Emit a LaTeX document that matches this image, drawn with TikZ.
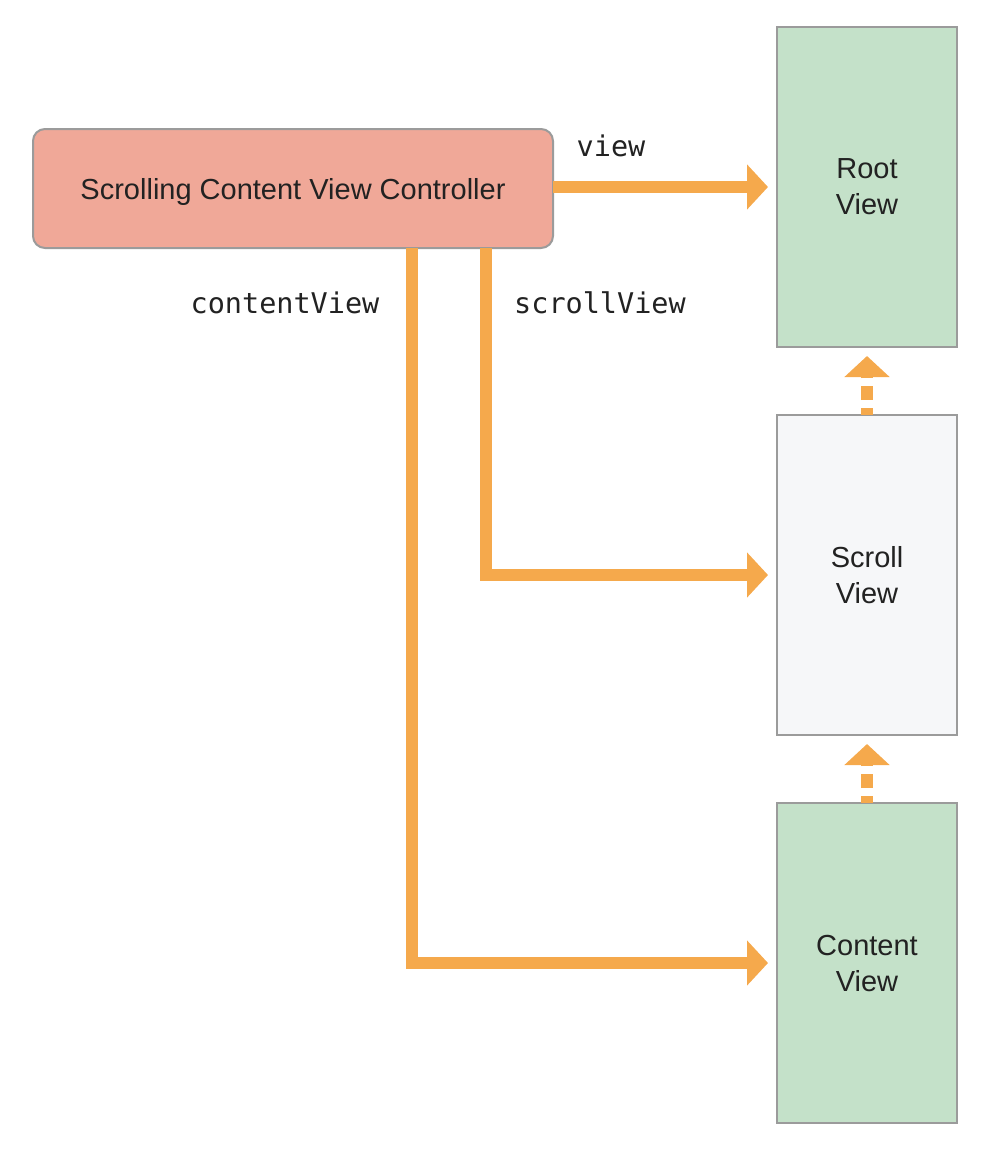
\documentclass[tikz,border=0pt]{standalone}
\usepackage{fontspec}
\setmainfont{Liberation Sans}
\newfontfamily\codefont{DejaVu Sans Mono}
\usetikzlibrary{arrows.meta}
\usetikzlibrary{positioning}
\definecolor{ctrlred}{HTML}{F0A898}
\definecolor{viewgreen}{HTML}{C4E1C9}
\definecolor{scrollgray}{HTML}{F6F7F9}
\definecolor{edgegray}{HTML}{9B9B9B}
\definecolor{linkorange}{HTML}{F5A94C}
\definecolor{inkdark}{HTML}{222222}
\tikzset{
    viewbox/.style={
           rectangle,
           draw=edgegray, line width=2pt,
           minimum width=180pt,
           minimum height=320pt,
           inner sep=0pt, outer sep=0pt,
           align=center,
           text=inkdark,
           text depth=0pt,
           font=\fontsize{29}{36}\selectfont,
           },
    ctrlbox/.style={
           rectangle,
           rounded corners=12pt,
           draw=edgegray, line width=2pt,
           fill=ctrlred,
           minimum width=520pt,
           minimum height=119pt,
           inner sep=0pt, outer sep=0pt,
           text=inkdark,
           text depth=0pt,
           font=\fontsize{29}{36}\selectfont,
           },
    code/.style={
           text=inkdark,
           font=\codefont\fontsize{28.5}{34}\selectfont,
           inner sep=0pt,
           },
    link/.style={
           draw=linkorange, line width=12pt,
           -{Triangle[length=21pt,width=44pt]},
           },
    superlink/.style={
           link,
           dash pattern=on 14pt off 8pt, dash phase=7pt,
           },
}
\begin{document}
\begin{tikzpicture}[x=1pt,y=-1pt]
 \useasboundingbox (0,0) rectangle (992,1156);

 % the controller and its views
 \node[ctrlbox] (Controller) at (293,188.5)
 {Scrolling Content View Controller};

 \node[viewbox, fill=viewgreen] (Root) at (867,187)
 {Root\\View};

 \node[viewbox, fill=scrollgray,
  below=68pt of Root] (Scroll)
 {Scroll\\View};

 \node[viewbox, fill=viewgreen,
  below=68pt of Scroll] (Content)
 {Content\\View};

 % property names
 \node[code] (view label) at (611,146) {view};
 \node[code] (scroll label) at (600,303) {scrollView};
 \node[code] (content label) at (285,303) {contentView};

 % references held by the controller
 \coordinate (scroll drop) at (486,248);
 \coordinate (content drop) at (412,248);

 \draw[link, shorten >=9pt] (Controller.east |- Root.west) -- (Root.west);
 \draw[link, shorten >=9pt] (scroll drop) |- (Scroll.west);
 \draw[link, shorten >=9pt] (content drop) |- (Content.west);

 % subview of
 \draw[superlink, shorten >=9pt] (Scroll.north) -- (Root.south);
 \draw[superlink, shorten >=9pt] (Content.north) -- (Scroll.south);

\end{tikzpicture}
\end{document}
